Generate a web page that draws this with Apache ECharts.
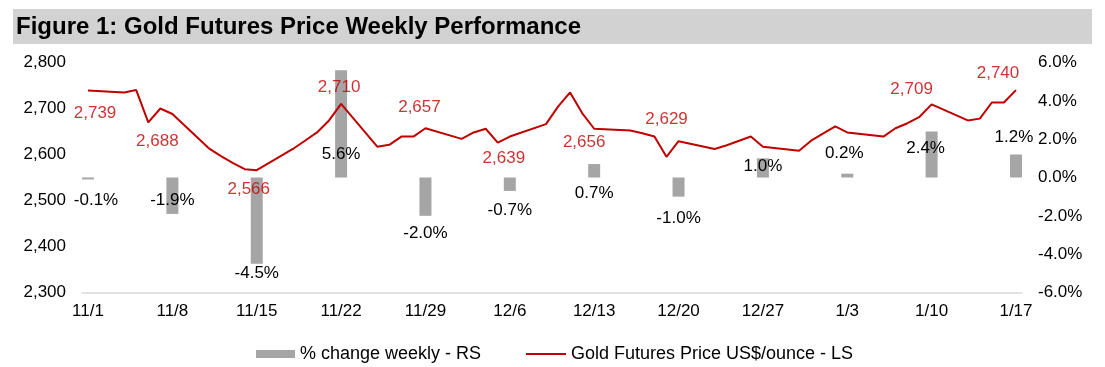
<!DOCTYPE html>
<html><head><meta charset="utf-8">
<script src="https://cdn.jsdelivr.net/npm/echarts@6/dist/echarts.min.js"></script>
<style>html,body{margin:0;padding:0;background:#fff}#c{width:1105px;height:367px}</style>
</head><body><div id="c"></div>
<script>
// ---- data ----
const tradeDates = [
 '2024-11-01',
 '2024-11-04','2024-11-05','2024-11-06','2024-11-07','2024-11-08',
 '2024-11-11','2024-11-12','2024-11-13','2024-11-14','2024-11-15',
 '2024-11-18','2024-11-19','2024-11-20','2024-11-21','2024-11-22',
 '2024-11-25','2024-11-26','2024-11-27','2024-11-28','2024-11-29',
 '2024-12-02','2024-12-03','2024-12-04','2024-12-05','2024-12-06',
 '2024-12-09','2024-12-10','2024-12-11','2024-12-12','2024-12-13',
 '2024-12-16','2024-12-17','2024-12-18','2024-12-19','2024-12-20',
 '2024-12-23','2024-12-24','2024-12-26','2024-12-27',
 '2024-12-30','2024-12-31','2025-01-02','2025-01-03',
 '2025-01-06','2025-01-07','2025-01-08','2025-01-09','2025-01-10',
 '2025-01-13','2025-01-14','2025-01-15','2025-01-16','2025-01-17'
];
const prices = [
 2739,
 2735,2740,2670,2700,2688,
 2614,2597,2582,2568,2566,
 2612,2630,2648,2674,2710,
 2617,2621,2639,2639,2657,
 2634,2648,2656,2626,2639,
 2666,2704,2735,2690,2656,
 2652,2646,2639,2595,2629,
 2612,2620,2639,2617,
 2608,2630,2661,2648,
 2639,2657,2668,2682,2709,
 2674,2678,2713,2713,2740
];
const weekDates = ['2024-11-01','2024-11-08','2024-11-15','2024-11-22','2024-11-29','2024-12-06',
 '2024-12-13','2024-12-20','2024-12-27','2025-01-03','2025-01-10','2025-01-17'];
const weekLabels = ['11/1','11/8','11/15','11/22','11/29','12/6','12/13','12/20','12/27','1/3','1/10','1/17'];
const weekChange = [-0.1,-1.9,-4.5,5.6,-2.0,-0.7,0.7,-1.0,1.0,0.2,2.4,1.2];
const priceLabelDates = ['2024-11-01','2024-11-08','2024-11-15','2024-11-22','2024-11-29','2024-12-06',
 '2024-12-13','2024-12-20','2025-01-10','2025-01-17'];

// ---- label placement (layout only) ----
const priceLabelOffsets = [[7,23],[-15,27],[-8,19],[-2,-17],[-6,-21],[-6,22],[-10,14],[-12,-22],[-20,-15],[-18,-17]];
const changeLabelOffsets = [[8,22],[0,5],[0,53],[0,30],[0,37],[0,26],[0,23],[0,31],[0,-2],[-3,-22],[-6,-6],[-2,-29]];

// day number since first date (calendar days)
function dayNum(s){const p=s.split('-').map(Number);const q=weekDates[0].split('-').map(Number);
  return Math.round((Date.UTC(p[0],p[1]-1,p[2])-Date.UTC(q[0],q[1]-1,q[2]))/86400000);}
const weekDays = weekDates.map(dayNum);
const FONT = 'Liberation Sans, Arial, sans-serif';
const RED = '#c00000';
const GREY = '#a5a5a5';
const BAR_NAME = '% change weekly - RS';
const LINE_NAME = 'Gold Futures Price US$/ounce - LS';

const chart = echarts.init(document.getElementById('c'), null, {renderer:'canvas'});
chart.setOption({
  animation:false,
  backgroundColor:'#fff',
  textStyle:{fontFamily:FONT},
  graphic:[
    {type:'rect', shape:{x:13,y:9,width:1079,height:35}, style:{fill:'#d3d2d2'}, silent:true},
    {type:'text', x:16, y:27, style:{text:'Figure 1: Gold Futures Price Weekly Performance', fill:'#000',
      font:'bold 24px '+FONT, verticalAlign:'middle'}}
  ],
  legend:[
    {left:251, top:340, itemWidth:39, itemHeight:8, icon:'rect',
     textStyle:{fontSize:18, color:'#000', fontFamily:FONT},
     data:[{name:BAR_NAME, itemStyle:{color:GREY}}]},
    {left:521, top:340, itemWidth:40, itemHeight:2, icon:'rect',
     textStyle:{fontSize:18, color:'#000', fontFamily:FONT},
     data:[{name:LINE_NAME, itemStyle:{color:RED}}]}
  ],
  grid:{left:82, right:83, top:62.5, bottom:74.5, containLabel:false},
  xAxis:{
    type:'value',
    min: -0.5,
    max: weekDays[weekDays.length-1] + 0.5,
    axisLine:{show:true, onZero:false, lineStyle:{color:'#d9d9d9', width:1.5}},
    axisTick:{show:false},
    splitLine:{show:false},
    axisLabel:{customValues:weekDays, color:'#000', fontSize:17, margin:10, hideOverlap:false,
      showMinLabel:true, showMaxLabel:true,
      formatter:function(v){const i=weekDays.indexOf(v);return i>=0?weekLabels[i]:'';}}
  },
  yAxis:[
    {type:'value', min:2300, max:2800, interval:100, splitLine:{show:false},
     axisLine:{show:false}, axisTick:{show:false},
     axisLabel:{color:'#000', fontSize:17, margin:16, formatter:v=>v.toLocaleString('en-US')}},
    {type:'value', min:-6, max:6, interval:2, splitLine:{show:false},
     axisLine:{show:false}, axisTick:{show:false},
     axisLabel:{color:'#000', fontSize:17, margin:16, formatter:v=>v.toFixed(1)+'%'}}
  ],
  series:[
    {name:BAR_NAME, type:'bar', yAxisIndex:1, barWidth:12, clip:false,
     itemStyle:{color:GREY}, z:1,
     label:{show:true, position:'inside', color:'#000', fontSize:17, fontFamily:FONT,
       formatter:p=>p.value[1].toFixed(1)+'%'},
     data:weekDates.map((d,i)=>({value:[dayNum(d),weekChange[i]], label:{offset:changeLabelOffsets[i]}}))},
    {name:LINE_NAME, type:'line', yAxisIndex:0, symbol:'none', z:3,
     lineStyle:{color:RED, width:2}, itemStyle:{color:RED},
     data:tradeDates.map((d,i)=>[dayNum(d),prices[i]])},
    {name:'labels', type:'scatter', yAxisIndex:0, symbolSize:1, z:4, silent:true,
     itemStyle:{color:'rgba(0,0,0,0)'},
     label:{show:true, position:'inside', color:RED, fontSize:17, fontFamily:FONT,
       formatter:p=>p.value[1].toLocaleString('en-US')},
     data:priceLabelDates.map((d,i)=>({value:[dayNum(d),prices[tradeDates.indexOf(d)]], label:{offset:priceLabelOffsets[i]}}))}
  ]
});
</script></body></html>
